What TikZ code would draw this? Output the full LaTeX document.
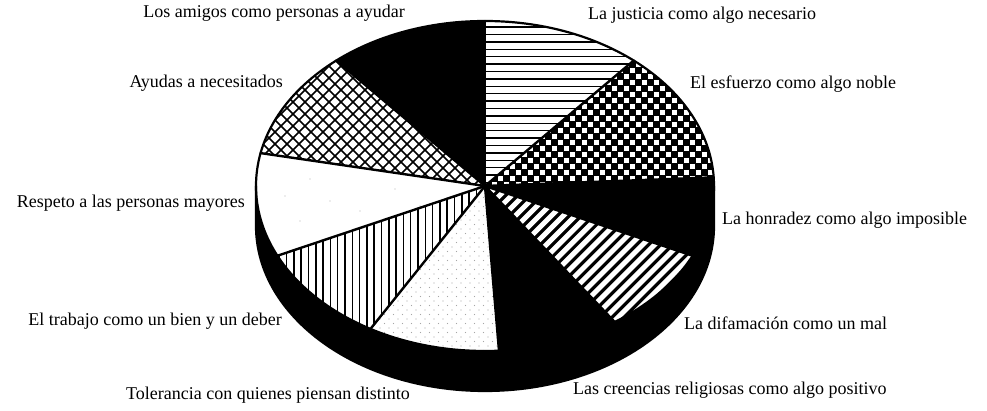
\documentclass[tikz,border=0pt]{standalone}
\usepackage{fontspec}
\setmainfont{Liberation Serif}
\begin{document}
\begin{tikzpicture}[x=1pt,y=1pt,
  lbl/.style={font=\fontsize{18}{20}\selectfont, inner sep=0pt},
  edge/.style={line width=2.4pt, line cap=round},
  rim/.style={line width=2.2pt}]
\useasboundingbox (0,0) rectangle (987,411);
\def\cx{485}\def\cy{225}\def\rx{229}\def\ry{165}\def\dz{40}
\coordinate (C) at (\cx,\cy);
\foreach \n/\a in {a/90,b/130.5,c/168.5,d/205,e/240,f/273.5,g/304.5,h/335,i/363,j/49.5}
  \coordinate (\n) at ({\cx+\rx*cos(\a)},{\cy+\ry*sin(\a)});
% side of the pie
\fill[black] (\cx,\cy-\dz) ellipse[x radius=\rx, y radius=\ry];
\fill[black] (\cx-\rx,\cy-\dz) rectangle (\cx+\rx,\cy);
% top face white base
\fill[white] (C) ellipse[x radius=\rx, y radius=\ry];
% amigos (black)
\fill[black] (C) -- (a) arc[start angle=90,end angle=130.5,x radius=\rx,y radius=\ry] -- cycle;
% ayudas (crosshatch)
\begin{scope}
\clip (C) -- (b) arc[start angle=130.5,end angle=168.5,x radius=\rx,y radius=\ry] -- cycle;
\foreach \k in {-40,...,40} {
  \draw[line width=1.7pt] (\cx+\k*12,\cy) -- ++(250,250);
  \draw[line width=1.7pt] (\cx+\k*12,\cy) -- ++(-250,250);
}
\end{scope}
% respeto (white with specks)
\foreach \p in {(300,190),(330,210),(360,200),(395,222),(310,232),(420,205),(285,215)}
  \fill[gray!60] \p circle (0.6);
% trabajo (vertical lines)
\begin{scope}
\clip (C) -- (d) arc[start angle=205,end angle=240,x radius=\rx,y radius=\ry] -- cycle;
\foreach \k in {0,...,32} \draw[line width=1.5pt] (272+\k*7.3,40) -- ++(0,200);
\end{scope}
% tolerancia (fine dots)
\begin{scope}
\clip (C) -- (e) arc[start angle=240,end angle=273.5,x radius=\rx,y radius=\ry] -- cycle;
\foreach \i in {0,...,16} \foreach \j in {0,...,20} {
  \fill[gray!70] (362+\i*9,56+\j*9) circle (0.55);
  \fill[gray!70] (366.5+\i*9,60.5+\j*9) circle (0.55);
}
\end{scope}
% creencias (black)
\fill[black] (C) -- (f) arc[start angle=273.5,end angle=304.5,x radius=\rx,y radius=\ry] -- cycle;
% difamacion (white stripes on black)
\begin{scope}
\clip (C) -- (g) arc[start angle=304.5,end angle=335,x radius=\rx,y radius=\ry] -- cycle;
\fill[black] (470,40) rectangle (720,240);
\begin{scope}[rotate around={45:(C)}]
\foreach \k in {-40,...,40} \draw[white, line width=5pt] (\cx-300,\cy+\k*8.5) -- ++(600,0);
\end{scope}
\end{scope}
% honradez (black)
\fill[black] (C) -- (h) arc[start angle=335,end angle=363,x radius=\rx,y radius=\ry] -- cycle;
% esfuerzo (checkerboard)
\begin{scope}
\clip (C) -- (i) arc[start angle=3,end angle=49.5,x radius=\rx,y radius=\ry] -- cycle;
\fill[black] (470,200) rectangle (720,360);
\foreach \ii in {0,...,20} \foreach \jj in {0,...,13} {
  \fill[white] (480+\ii*12,200+\jj*12) rectangle ++(5,5);
  \fill[white] (486+\ii*12,206+\jj*12) rectangle ++(5,5);
}
\end{scope}
% justicia (horizontal lines)
\begin{scope}
\clip (C) -- (j) arc[start angle=49.5,end angle=90,x radius=\rx,y radius=\ry] -- cycle;
\foreach \k in {0,...,24} \draw[line width=1.5pt] (480,\cy+3.5+\k*7.4) -- ++(240,0);
\end{scope}
% slice edges
\foreach \n in {a,b,c,d,e,f,g,h,i,j} \draw[edge] (C) -- (\n);
% outlines
\draw[rim] (C) ellipse[x radius=\rx, y radius=\ry];
\draw[rim] (\cx-\rx,\cy) -- (\cx-\rx,\cy-\dz)
  arc[start angle=180,end angle=360,x radius=\rx,y radius=\ry] -- (\cx+\rx,\cy);
% labels
\node[lbl, anchor=mid east] (lamigos) at (405,396) {Los amigos como personas a ayudar};
\node[lbl, anchor=mid west] (ljusticia) at (588,394) {La justicia como algo necesario};
\node[lbl, anchor=mid east] (layudas) at (283,326) {Ayudas a necesitados};
\node[lbl, anchor=mid west] (lesfuerzo) at (690,325) {El esfuerzo como algo noble};
\node[lbl, anchor=mid east] (lrespeto) at (245,206) {Respeto a las personas mayores};
\node[lbl, anchor=mid west] (lhonradez) at (722,189) {La honradez como algo imposible};
\node[lbl, anchor=mid east] (ltrabajo) at (282,88) {El trabajo como un bien y un deber};
\node[lbl, anchor=mid west] (ldifamacion) at (684,84) {La difamación como un mal};
\node[lbl, anchor=mid east] (ltolerancia) at (410,14) {Tolerancia con quienes piensan distinto};
\node[lbl, anchor=mid west] (lcreencias) at (573,19) {Las creencias religiosas como algo positivo};
\end{tikzpicture}
\end{document}
